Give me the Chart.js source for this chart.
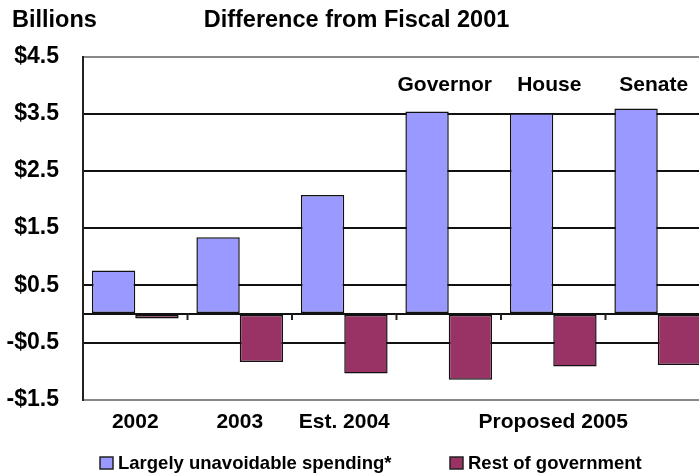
<!DOCTYPE html>
<html>
<head>
<meta charset="utf-8">
<script src="https://cdn.jsdelivr.net/npm/chart.js@4.4.1/dist/chart.umd.min.js"></script>
<style>
  html, body { margin: 0; padding: 0; background: #fff; overflow: hidden; }
  #wrap { width: 710px; height: 474px; }
</style>
</head>
<body>
<div id="wrap"><canvas id="grafica"></canvas></div>
<script>
const categorias = ["2002", "2003", "Est. 2004", "Governor", "House", "Senate"];
const etiquetasX = ["2002", "2003", "Est. 2004", "", "Proposed 2005", ""];
const etiquetasArriba = ["", "", "", "Governor", "House", "Senate"];
const gastoInevitable = [0.76, 1.34, 2.08, 3.54, 3.51, 3.59];
const restoGobierno = [-0.08, -0.84, -1.04, -1.15, -0.92, -0.89];
const ticksY = [-1.5, -0.5, 0, 0.5, 1.5, 2.5, 3.5, 4.5];
const etiquetasY = ["-$1.5", "-$0.5", "", "$0.5", "$1.5", "$2.5", "$3.5", "$4.5"];

const fuente = "'Liberation Sans', Arial, sans-serif";
Chart.defaults.font.family = fuente;
Chart.defaults.font.weight = "bold";
Chart.defaults.color = "#000";

const extras = {
  id: "extras",
  afterDatasetsDraw(chart) {
    const { ctx, scales: { x, y } } = chart;
    ctx.save();
    // marcas sobre la linea cero
    const y0 = y.getPixelForValue(0);
    ctx.strokeStyle = "#222";
    ctx.lineWidth = 2;
    for (let i = 1; i < categorias.length; i++) {
      const xm = (x.getPixelForValue(i - 1) + x.getPixelForValue(i)) / 2;
      ctx.beginPath();
      ctx.moveTo(xm, y0);
      ctx.lineTo(xm, y0 + 6);
      ctx.stroke();
    }
    // etiquetas sobre las barras
    ctx.fillStyle = "#000";
    ctx.font = "bold 21px " + fuente;
    ctx.textAlign = "center";
    ctx.textBaseline = "middle";
    etiquetasArriba.forEach((t, i) => {
      if (t) ctx.fillText(t, x.getPixelForValue(i) - 4, y.getPixelForValue(4.0));
    });
    ctx.restore();
  },
  afterDraw(chart) {
    const { ctx } = chart;
    ctx.save();
    ctx.fillStyle = "#000";
    ctx.textBaseline = "middle";
    ctx.font = "bold 23.5px " + fuente;
    ctx.textAlign = "left";
    ctx.fillText("Billions", 12, 21);
    ctx.textAlign = "center";
    ctx.fillText("Difference from Fiscal 2001", 356.5, 21);

    // leyenda
    ctx.font = "bold 18.5px " + fuente;
    ctx.textAlign = "left";
    const xs = [100, 450];
    chart.data.datasets.forEach((ds, i) => {
      ctx.fillStyle = ds.backgroundColor;
      ctx.fillRect(xs[i], 457, 13, 12);
      ctx.strokeStyle = "#222";
      ctx.lineWidth = 1.5;
      ctx.strokeRect(xs[i], 457, 13, 12);
      ctx.fillStyle = "#000";
      ctx.fillText(ds.label, xs[i] + 18, 464);
    });
    ctx.restore();
  }
};

const ctx = document.getElementById("grafica").getContext("2d");
new Chart(ctx, {
  type: "bar",
  data: {
    labels: categorias,
    datasets: [
      {
        label: "Largely unavoidable spending*",
        data: gastoInevitable,
        backgroundColor: "#9999ff",
        borderColor: "#111",
        borderWidth: 1.5,
        borderSkipped: false
      },
      {
        label: "Rest of government",
        data: restoGobierno,
        backgroundColor: "#993366",
        borderColor: "#111",
        borderWidth: 1.5,
        borderSkipped: false
      }
    ]
  },
  options: {
    responsive: true,
    maintainAspectRatio: false,
    animation: false,
    layout: { padding: { top: 56.5, bottom: 37, left: 0, right: 0 } },
    plugins: {
      legend: { display: false },
      tooltip: { enabled: false }
    },
    datasets: {
      bar: { categoryPercentage: 0.83, barPercentage: 1.0 }
    },
    scales: {
      x: {
        grid: { display: false },
        border: { display: false },
        ticks: {
          padding: 2,
          maxRotation: 0,
          autoSkip: false,
          font: { size: 21, weight: "bold" },
          callback: (v, i) => etiquetasX[i]
        }
      },
      y: {
        min: -1.5,
        max: 4.5,
        afterBuildTicks: scale => { scale.ticks = ticksY.map(v => ({ value: v })); },
        afterFit: scale => { scale.width = 83; },
        grid: {
          drawTicks: false,
          lineWidth: 2,
          color: c => (c.tick && (c.tick.value === 4.5 || c.tick.value === -1.5)) ? "#888" : "#111"
        },
        border: { display: true, color: "#222", width: 2 },
        ticks: {
          padding: 24,
          font: { size: 23, weight: "bold" },
          callback: (v) => etiquetasY[ticksY.indexOf(v)]
        }
      }
    }
  },
  plugins: [extras]
});
</script>
</body>
</html>
